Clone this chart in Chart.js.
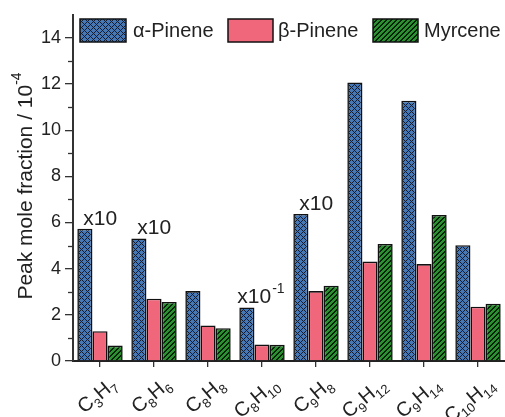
<!DOCTYPE html>
<html>
<head>
<meta charset="utf-8">
<script src="https://cdn.jsdelivr.net/npm/chart.js@4"></script>
<style>
  html, body { margin: 0; padding: 0; background: #fff; }
  #wrap { width: 505px; height: 417px; }
</style>
</head>
<body>
<div id="wrap"><canvas id="chart" width="505" height="417"></canvas></div>
<script>
// species on the x axis (digits get drawn as subscripts)
const categories = ["C3H7", "C8H6", "C8H8", "C8H10", "C9H8", "C9H12", "C9H14", "C10H14"];
const seriesNames = ["\u03b1-Pinene", "\u03b2-Pinene", "Myrcene"];
const alphaPinene = [5.73, 5.31, 3.03, 2.32, 6.37, 12.07, 11.28, 5.02];
const betaPinene = [1.29, 2.70, 1.54, 0.71, 3.03, 4.31, 4.20, 2.35];
const myrcene = [0.67, 2.56, 1.42, 0.70, 3.26, 5.07, 6.33, 2.48];
// scaling notes written above the alpha-pinene bars ("^" marks the exponent)
const scaleNotes = ["x10", "x10", "", "x10^-1", "x10", "", "", ""];
const yMax = 15;

const FONT = "'Liberation Sans', Arial, sans-serif";
const BLUE = "#4678b6";
const PINK = "#f0677c";
const GREEN = "#2b9130";

// pixel patterns so the hatch lines stay crisp
function pixelPattern(n, bg, ink, test) {
  const c = document.createElement("canvas");
  c.width = n; c.height = n;
  const g = c.getContext("2d");
  g.fillStyle = bg;
  g.fillRect(0, 0, n, n);
  g.fillStyle = ink;
  for (let px = 0; px < n; px++) {
    for (let py = 0; py < n; py++) {
      if (test(px, py)) g.fillRect(px, py, 1, 1);
    }
  }
  return g.createPattern(c, "repeat");
}

const crossHatch = pixelPattern(6, BLUE, "#121c2e",
  (a, b) => (a + b) % 6 === 0 || (a - b + 6) % 6 === 0);
const diagHatch = pixelPattern(5, GREEN, "#0a220c",
  (a, b) => (a + b) % 5 === 0 || (a + b) % 5 === 1);

const fills = [crossHatch, PINK, diagHatch];

// split "C10H14" into [["C",false],["10",true],["H",false],["14",true]]
function formulaParts(s) {
  return s.match(/[A-Za-z]+|\d+/g).map((p) => [p, /\d/.test(p)]);
}

const overlayPlugin = {
  id: "overlay",
  afterDraw(chart) {
    const ctx = chart.ctx;
    const x = chart.scales.x;
    const y = chart.scales.y;
    const area = chart.chartArea;
    ctx.save();
    ctx.fillStyle = "#222";
    ctx.strokeStyle = "#333";

    // minor y ticks
    ctx.lineWidth = 1.3;
    for (let v = 1; v < yMax; v += 2) {
      const py = Math.round(y.getPixelForValue(v)) + 0.5;
      ctx.beginPath();
      ctx.moveTo(area.left - 5, py);
      ctx.lineTo(area.left, py);
      ctx.stroke();
    }

    // x labels, rotated, with subscripts
    categories.forEach((cat, i) => {
      const px = x.getPixelForValue(i);
      const parts = formulaParts(cat);
      let w = 0;
      parts.forEach(([t, sub]) => {
        ctx.font = (sub ? "13px " : "20px ") + FONT;
        w += ctx.measureText(t).width;
      });
      ctx.save();
      ctx.translate(px + 14, 382);
      ctx.rotate(-40 * Math.PI / 180);
      ctx.textBaseline = "middle";
      ctx.textAlign = "left";
      let cx = -w;
      parts.forEach(([t, sub]) => {
        ctx.font = (sub ? "13px " : "20px ") + FONT;
        ctx.fillText(t, cx, sub ? 7 : 0);
        cx += ctx.measureText(t).width;
      });
      ctx.restore();
    });

    // y axis title
    ctx.save();
    ctx.translate(26, 186);
    ctx.rotate(-Math.PI / 2);
    ctx.textBaseline = "middle";
    ctx.textAlign = "left";
    const main = "Peak mole fraction / 10";
    ctx.font = "21px " + FONT;
    const mw = ctx.measureText(main).width;
    ctx.font = "14px " + FONT;
    const sw = ctx.measureText("-4").width;
    const start = -(mw + sw) / 2;
    ctx.font = "21px " + FONT;
    ctx.fillText(main, start, 0);
    ctx.font = "14px " + FONT;
    ctx.fillText("-4", start + mw, -9);
    ctx.restore();

    // scale notes above alpha-pinene bars
    const meta = chart.getDatasetMeta(0);
    scaleNotes.forEach((note, i) => {
      if (!note) return;
      const bar = meta.data[i];
      const left = bar.x - bar.width / 2;
      const [base, exp] = note.split("^");
      ctx.textAlign = "left";
      ctx.textBaseline = "alphabetic";
      ctx.font = "21px " + FONT;
      const tx = left + (exp ? -2 : 6);
      ctx.fillText(base, tx, bar.y - 4);
      if (exp) {
        const bw = ctx.measureText(base).width;
        ctx.font = "14px " + FONT;
        ctx.fillText(exp, tx + bw + 1, bar.y - 14);
      }
    });

    // legend
    const legend = [
      { box: 80, w: 46, text: 133 },
      { box: 228, w: 45, text: 278 },
      { box: 373, w: 45, text: 424 }
    ];
    legend.forEach((l, i) => {
      ctx.fillStyle = fills[i];
      ctx.fillRect(l.box, 19, l.w, 23);
      ctx.lineWidth = 1.5;
      ctx.strokeStyle = "#111";
      ctx.strokeRect(l.box, 19, l.w, 23);
      ctx.fillStyle = "#222";
      ctx.font = "20px " + FONT;
      ctx.textBaseline = "middle";
      ctx.fillText(seriesNames[i], l.text, 31);
    });

    ctx.restore();
  }
};

const ctx = document.getElementById("chart").getContext("2d");
new Chart(ctx, {
  type: "bar",
  data: {
    labels: categories,
    datasets: [alphaPinene, betaPinene, myrcene].map((vals, i) => ({
      label: seriesNames[i],
      data: vals,
      backgroundColor: fills[i],
      borderColor: "#111",
      borderWidth: 1.6,
      categoryPercentage: 0.84,
      barPercentage: 1.0
    }))
  },
  options: {
    responsive: false,
    animation: false,
    devicePixelRatio: 1,
    layout: { padding: { top: 10, right: 0, left: 0, bottom: 0 } },
    plugins: {
      legend: { display: false },
      tooltip: { enabled: false }
    },
    scales: {
      x: {
        offset: true,
        grid: {
          display: true,
          offset: false,
          drawOnChartArea: false,
          drawTicks: true,
          tickLength: 6,
          color: "#333",
          lineWidth: 1.3
        },
        border: { display: true, color: "#222", width: 2 },
        ticks: { display: false },
        afterFit(scale) { scale.height = 56; }
      },
      y: {
        min: 0,
        max: yMax,
        grid: {
          display: true,
          drawOnChartArea: false,
          drawTicks: true,
          tickLength: 8,
          lineWidth: 1.3,
          color: (c) => (c.tick && c.tick.value % 2 === 0 ? "#333" : "rgba(0,0,0,0)")
        },
        border: { display: true, color: "#333", width: 2 },
        ticks: {
          stepSize: 1,
          padding: 4,
          color: "#222",
          font: { family: FONT, size: 18 },
          callback: (v) => (v % 2 === 0 && v < yMax ? String(v) : "")
        },
        afterFit(scale) { scale.width = 73; }
      }
    }
  },
  plugins: [overlayPlugin]
});
</script>
</body>
</html>
